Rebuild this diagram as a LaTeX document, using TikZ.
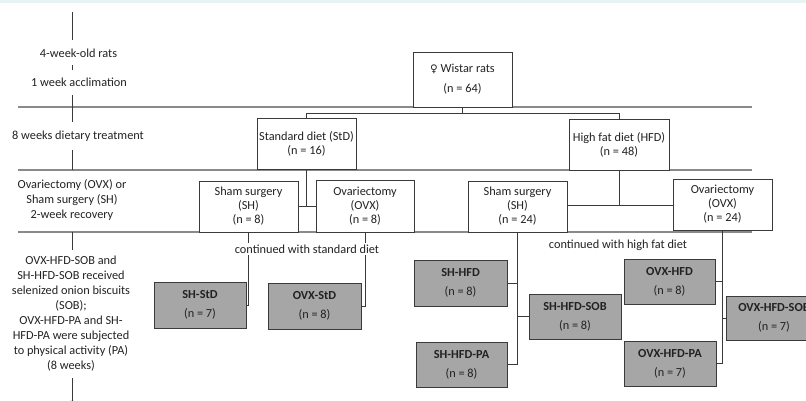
\documentclass[tikz,border=0pt]{standalone}
\usepackage{fontspec}
\usetikzlibrary{calc}
\setmainfont{Carlito}
\newfontfamily\symfont{DejaVu Sans}
\definecolor{txt}{HTML}{222222}
\definecolor{boxline}{HTML}{3A3A3A}
\definecolor{sepline}{HTML}{8A8A8A}
\definecolor{grayfill}{HTML}{A6A6A6}
\definecolor{band}{HTML}{E6F3F5}
\begin{document}
\begin{tikzpicture}[x=1pt,y=-1pt,
  every node/.style={font=\fontsize{12.3}{14}\selectfont, text=txt, inner sep=1pt},
  box/.style={draw=boxline, line width=0.9pt, fill=white, align=center},
  gbox/.style={draw=boxline, line width=0.9pt, fill=grayfill, align=center},
  sep/.style={draw=sepline, line width=1.1pt},
  conn/.style={draw=boxline, line width=0.9pt},
  tl/.style={draw=boxline, line width=0.8pt},
  lbl/.style={align=center, font=\fontsize{12.3}{15}\selectfont}]
\useasboundingbox (0,0) rectangle (806,401);
\fill[band] (0,0) rectangle (806,3);
% separators
\draw[sep] (18,107) -- (752,107);
\draw[sep] (18,170) -- (752,170);
\draw[sep] (18,232) -- (752,232);
% timeline
\coordinate (a0) at (72,12); \coordinate (a1) at (72,40);
\coordinate (b0) at (72,65); \coordinate (b1) at (72,70);
\coordinate (c0) at (72,95); \coordinate (c1) at (72,122);
\coordinate (d0) at (72,150); \coordinate (d1) at (72,170);
\coordinate (e0) at (72,232); \coordinate (e1) at (72,250);
\coordinate (f0) at (72,378); \coordinate (f1) at (72,406);
\draw[tl] (a0) -- (a1);
\draw[tl] (b0) -- (b1);
\draw[tl] (c0) -- (c1);
\draw[tl] (d0) -- (d1);
\draw[tl] (e0) -- (e1);
\draw[tl,-latex] (f0) -- (f1);
\node[lbl] (l1) at (78.5,53) {4-week-old rats};
\node[lbl] (l2) at (79,82) {1 week acclimation};
\node[lbl] (l3) at (78,136) {8 weeks dietary treatment};
\node[lbl] (l4) at (72,200) {Ovariectomy (OVX) or\\Sham surgery (SH)\\2-week recovery};
\node[lbl] (l5) at (71,313.5) {OVX-HFD-SOB and\\SH-HFD-SOB received\\selenized onion biscuits\\(SOB);\\OVX-HFD-PA and SH-\\HFD-PA were subjected\\to physical activity (PA)\\(8 weeks)};
% boxes
\node[box, minimum width=99pt, minimum height=55pt] (wistar) at (462.5,79.5) {{\symfont\fontsize{10.5}{12}\selectfont ♀} Wistar rats\\[6pt](n = 64)};
\node[box, minimum width=99pt, minimum height=51pt] (std) at (306.5,143.5) {Standard diet (StD)\\(n = 16)};
\node[box, minimum width=100pt, minimum height=51pt] (hfd) at (619,144.5) {High fat diet (HFD)\\(n = 48)};
\node[box, minimum width=99pt, minimum height=51pt] (sh1) at (248.5,206.5) {Sham surgery\\(SH)\\(n = 8)};
\node[box, minimum width=98pt, minimum height=52pt] (ovx1) at (365,206) {Ovariectomy\\(OVX)\\(n = 8)};
\node[box, minimum width=99pt, minimum height=51pt] (sh2) at (517.5,206.5) {Sham surgery\\(SH)\\(n = 24)};
\node[box, minimum width=99pt, minimum height=51pt] (ovx2) at (722.5,204.5) {Ovariectomy\\(OVX)\\(n = 24)};
% tree connectors
\coordinate (wj) at ($(wistar.south)+(0,6)$);
\draw[conn] (wistar.south) -- (wj) -| (std.north);
\draw[conn] (wj) -| (hfd.north);
\draw[conn] (std.south) -- (std.south |- sh1.east);
\draw[conn] (sh1.east) -- (ovx1.west |- sh1.east);
\coordinate (hj) at (hfd.south |- 0,205);
\draw[conn] (hfd.south) -- (hj);
\draw[conn] (sh2.east |- hj) -- (ovx2.west |- hj);
% grey boxes
\node[gbox, minimum width=92pt, minimum height=46pt] (shstd) at (200,305) {\textbf{SH-StD}\\[5pt](n = 7)};
\node[gbox, minimum width=93pt, minimum height=46pt] (ovxstd) at (314.5,306) {\textbf{OVX-StD}\\[5pt](n = 8)};
\node[gbox, minimum width=93pt, minimum height=46pt] (shhfd) at (460.5,283) {\textbf{SH-HFD}\\[5pt](n = 8)};
\node[gbox, minimum width=91pt, minimum height=45pt] (shhfdpa) at (461.5,364.5) {\textbf{SH-HFD-PA}\\[5pt](n = 8)};
\node[gbox, minimum width=92pt, minimum height=45pt] (shhfdsob) at (575,316.5) {\textbf{SH-HFD-SOB}\\[5pt](n = 8)};
\node[gbox, minimum width=91pt, minimum height=45pt] (ovxhfd) at (669.5,281.5) {\textbf{OVX-HFD}\\[5pt](n = 8)};
\node[gbox, minimum width=92pt, minimum height=45pt] (ovxhfdpa) at (670,363.5) {\textbf{OVX-HFD-PA}\\[5pt](n = 7)};
\node[gbox, minimum width=96pt, minimum height=44pt] (ovxhfdsob) at (774,318) {\textbf{OVX-HFD-SOB}\\[5pt](n = 7)};
% lower connectors
\draw[conn] (sh1.south) |- (shstd.east);
\draw[conn] (ovx1.south) |- (ovxstd.east);
\draw[conn] (sh2.south) |- (shhfdpa.east);
\draw[conn] (sh2.south |- shhfd.east) -- (shhfd.east);
\draw[conn] (sh2.south |- shhfdsob.west) -- (shhfdsob.west);
\draw[conn] (ovx2.south) |- (ovxhfdpa.east);
\draw[conn] (ovx2.south |- ovxhfd.east) -- (ovxhfd.east);
\draw[conn] (ovx2.south |- ovxhfdsob.west) -- (ovxhfdsob.west);
% labels
\node[fill=white, inner sep=2pt] (cstd) at (307,249) {continued with standard diet};
\node[fill=white, inner sep=2pt] (chfd) at (618,245) {continued with high fat diet};
\end{tikzpicture}
\end{document}
